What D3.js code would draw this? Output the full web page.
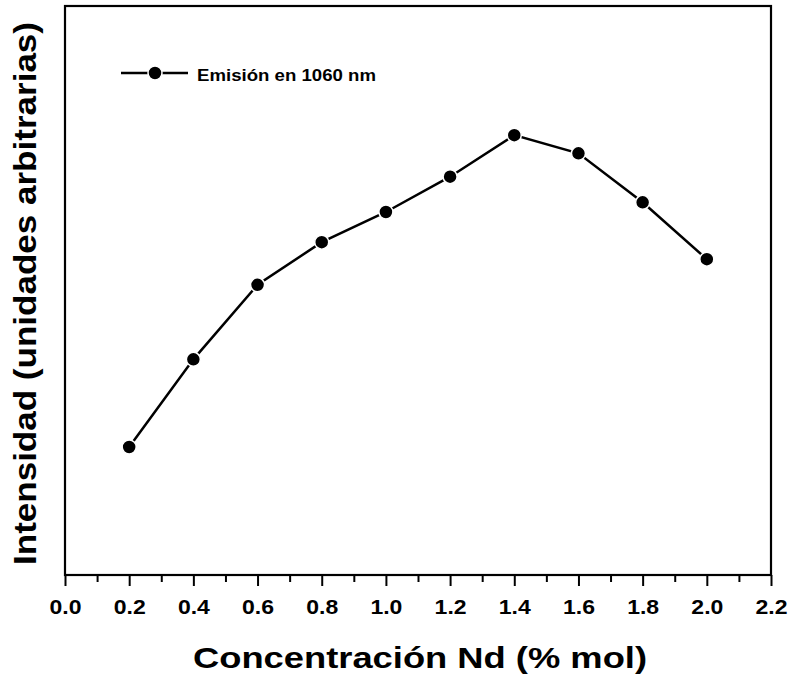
<!DOCTYPE html>
<html>
<head>
<meta charset="utf-8">
<script src="https://cdn.jsdelivr.net/npm/d3@7"></script>
<style>
  body { margin: 0; background: #fff; }
  svg { font-family: "Liberation Sans", Arial, sans-serif; }
</style>
</head>
<body>
<div id="chart-area"></div>
<script>
// concentration of Nd (% mol) and emission intensity (arbitrary units)
const concentracion = [0.2, 0.4, 0.6, 0.8, 1.0, 1.2, 1.4, 1.6, 1.8, 2.0]
const intensidad = [22.5, 37.9, 51.0, 58.5, 63.8, 70.0, 77.3, 74.1, 65.5, 55.5]
const xTicks = [0.0, 0.2, 0.4, 0.6, 0.8, 1.0, 1.2, 1.4, 1.6, 1.8, 2.0, 2.2]
const serieNombre = "Emisión en 1060 nm"

const width = 792, height = 679
const mLeft = 65, mRight = 771, mTop = 6, mBottom = 575

const svg = d3.select("#chart-area").append("svg")
  .attr("width", width)
  .attr("height", height)

const x = d3.scaleLinear().domain([0, 2.2]).range([mLeft, mRight])
const y = d3.scaleLinear().domain([0, 100]).range([mBottom, mTop])

// minor ticks (between labelled ones)
const minor = d3.range(0.1, 2.2, 0.2)
svg.append("g").attr("transform", "translate(0," + mBottom + ")")
  .call(d3.axisBottom(x).tickValues(minor).tickSize(7).tickFormat(""))
  .call(g => g.select(".domain").remove())
  .call(g => g.selectAll("line").attr("stroke-width", 2))

const axisx = d3.axisBottom(x).tickValues(xTicks).tickSize(11).tickPadding(13)
  .tickFormat(d3.format(".1f"))
svg.append("g").attr("transform", "translate(0," + mBottom + ")")
  .call(axisx)
  .call(g => g.select(".domain").remove())
  .call(g => g.selectAll("line").attr("stroke-width", 2))
  .call(g => g.selectAll("text").attr("font-size", 21).attr("font-weight", "bold")
    .attr("fill", "#000").attr("font-family", "Liberation Sans, Arial, sans-serif")
    .attr("textLength", 32).attr("lengthAdjust", "spacingAndGlyphs"))

// frame
svg.append("rect")
  .attr("x", mLeft).attr("y", mTop)
  .attr("width", mRight - mLeft).attr("height", mBottom - mTop)
  .attr("fill", "none").attr("stroke", "#000").attr("stroke-width", 2.2)

// series
const pts = concentracion.map((c, i) => [c, intensidad[i]])
const line = d3.line().x(d => x(d[0])).y(d => y(d[1]))
svg.append("path").datum(pts)
  .attr("d", line)
  .attr("fill", "none").attr("stroke", "#000").attr("stroke-width", 2.5)

svg.append("g").selectAll("circle")
  .data(pts).enter().append("circle")
  .attr("cx", d => x(d[0]))
  .attr("cy", d => y(d[1]))
  .attr("r", 7)
  .attr("fill", "#000")
  .attr("stroke", "#fff").attr("stroke-width", 1.5)

// legend
const leg = svg.append("g").attr("transform", "translate(121,73)")
leg.append("line").attr("x1", 0).attr("x2", 67).attr("y1", 0).attr("y2", 0)
  .attr("stroke", "#000").attr("stroke-width", 2.5)
leg.append("circle").attr("cx", 34).attr("cy", 0).attr("r", 7)
  .attr("fill", "#000").attr("stroke", "#fff").attr("stroke-width", 1.5)
leg.append("text").attr("x", 76).attr("y", 8)
  .attr("font-size", 17).attr("font-weight", "bold")
  .attr("textLength", 179).attr("lengthAdjust", "spacingAndGlyphs")
  .text(serieNombre)

// axis titles
svg.append("text")
  .attr("x", 420).attr("y", 668)
  .attr("text-anchor", "middle")
  .attr("font-size", 30).attr("font-weight", "bold")
  .attr("textLength", 454).attr("lengthAdjust", "spacingAndGlyphs")
  .text("Concentración Nd (% mol)")

svg.append("text")
  .attr("transform", "translate(36,293.5) rotate(-90)")
  .attr("text-anchor", "middle")
  .attr("font-size", 32).attr("font-weight", "bold")
  .attr("textLength", 543).attr("lengthAdjust", "spacingAndGlyphs")
  .text("Intensidad (unidades arbitrarias)")
</script>
</body>
</html>
